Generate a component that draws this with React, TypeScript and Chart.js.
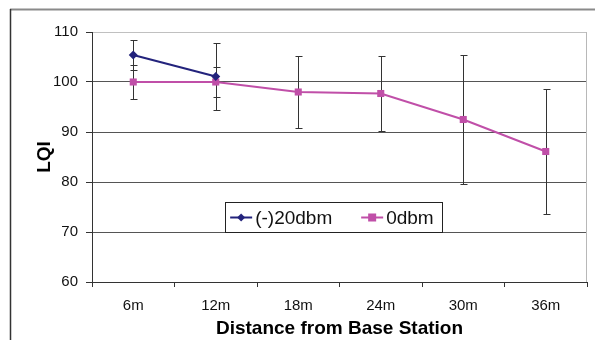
import React, { useEffect, useRef } from "react";
import { Chart, registerables } from "chart.js";

Chart.register(...registerables);

const categories = ["6m", "12m", "18m", "24m", "30m", "36m"];
const seriesNames = ["(-)20dbm", "0dbm"];
const valuesM20 = [105.4, 101.1, null, null, null, null];
const errorsM20 = [2.9, 6.7, null, null, null, null];
const values0 = [100, 100, 98, 97.7, 92.5, 86.1];
const errors0 = [3.35, 3, 7.3, 7.5, 12.9, 12.5];
const yTicks = [60, 70, 80, 90, 100, 110];

const NAVY = "#23237c";
const MAGENTA = "#c04fa8";
const FONT = "'Liberation Sans', Arial, sans-serif";

const frameAndErrors = {
  id: "frameAndErrors",
  beforeDraw(chart: any) {
    const ctx = chart.ctx;
    ctx.save();
    ctx.fillStyle = "#fff";
    ctx.fillRect(0, 0, chart.width, chart.height);
    ctx.strokeStyle = "#8a8a8a";
    ctx.lineWidth = 2;
    ctx.beginPath();
    ctx.moveTo(10, 9.5);
    ctx.lineTo(chart.width, 9.5);
    ctx.stroke();
    ctx.strokeStyle = "#333";
    ctx.lineWidth = 1.5;
    ctx.beginPath();
    ctx.moveTo(10.5, 9);
    ctx.lineTo(10.5, chart.height);
    ctx.stroke();
    ctx.restore();
  },
  beforeDatasetsDraw(chart: any) {
    const ctx = chart.ctx;
    const ca = chart.chartArea;
    ctx.save();
    ctx.strokeStyle = "#b8b8b8";
    ctx.lineWidth = 1;
    ctx.beginPath();
    ctx.moveTo(ca.right - 0.5, ca.top);
    ctx.lineTo(ca.right - 0.5, ca.bottom);
    ctx.stroke();
    const xs = chart.scales.x;
    const ys = chart.scales.y;
    ctx.strokeStyle = "#333";
    ctx.lineWidth = 1;
    chart.data.datasets.forEach((ds: any) => {
      const errs = ds.errors as (number | null)[];
      ds.data.forEach((v: number | null, i: number) => {
        const e = errs[i];
        if (v == null || e == null) return;
        const x = Math.round(xs.getPixelForValue(i)) + 0.5;
        const y1 = Math.round(ys.getPixelForValue(v + e)) + 0.5;
        const y2 = Math.round(ys.getPixelForValue(v - e)) + 0.5;
        ctx.beginPath();
        ctx.moveTo(x, y1);
        ctx.lineTo(x, y2);
        ctx.moveTo(x - 3, y1);
        ctx.lineTo(x + 4, y1);
        ctx.moveTo(x - 3, y2);
        ctx.lineTo(x + 4, y2);
        ctx.stroke();
      });
    });
    ctx.restore();
  },
  afterDraw(chart: any) {
    const ctx = chart.ctx;
    const ca = chart.chartArea;
    const w = ca.right - ca.left;
    const h = ca.bottom - ca.top;
    const bx = ca.left + w * 0.269;
    const by = ca.top + h * 0.68;
    const bw = w * 0.438;
    const bh = 30;
    ctx.save();
    ctx.fillStyle = "#fff";
    ctx.fillRect(bx, by, bw, bh);
    ctx.strokeStyle = "#222";
    ctx.lineWidth = 1;
    ctx.strokeRect(Math.round(bx) + 0.5, Math.round(by) + 0.5, Math.round(bw), bh);
    const cy = by + bh / 2 + 0.5;
    ctx.font = "19px " + FONT;
    ctx.textBaseline = "middle";
    const items = chart.data.datasets;
    const starts = [bx + 5, bx + 136];
    items.forEach((ds: any, i: number) => {
      const sx = starts[i];
      ctx.strokeStyle = ds.borderColor;
      ctx.lineWidth = 2;
      ctx.beginPath();
      ctx.moveTo(sx, cy);
      ctx.lineTo(sx + 22, cy);
      ctx.stroke();
      ctx.fillStyle = ds.borderColor;
      const mx = sx + 11;
      if (ds.pointStyle === "rectRot") {
        ctx.beginPath();
        ctx.moveTo(mx, cy - 4);
        ctx.lineTo(mx + 4, cy);
        ctx.lineTo(mx, cy + 4);
        ctx.lineTo(mx - 4, cy);
        ctx.closePath();
        ctx.fill();
      } else {
        ctx.fillRect(mx - 4, cy - 4, 8, 8);
      }
      ctx.fillStyle = "#111";
      ctx.fillText(ds.label, sx + 25, cy + 1);
    });
    ctx.restore();
  },
};

export default function App() {
  const ref = useRef<HTMLCanvasElement>(null);
  useEffect(() => {
    if (!ref.current) return;
    const chart = new Chart(ref.current, {
      type: "line",
      data: {
        labels: categories,
        datasets: [
          {
            label: seriesNames[0],
            data: valuesM20,
            errors: errorsM20,
            borderColor: NAVY,
            backgroundColor: NAVY,
            borderWidth: 2,
            pointStyle: "rectRot",
            pointRadius: 4.5,
            pointBorderWidth: 0,
            spanGaps: false,
          } as any,
          {
            label: seriesNames[1],
            data: values0,
            errors: errors0,
            borderColor: MAGENTA,
            backgroundColor: MAGENTA,
            borderWidth: 2,
            pointStyle: "rect",
            pointRadius: 5,
            pointBorderWidth: 0,
          } as any,
        ],
      },
      options: {
        responsive: false,
        animation: false,
        layout: { padding: { top: 32, right: 8, left: 33, bottom: 0 } },
        plugins: { legend: { display: false }, tooltip: { enabled: false } },
        scales: {
          x: {
            offset: true,
            grid: {
              offset: true,
              drawOnChartArea: false,
              drawTicks: true,
              tickLength: 5,
              color: "#333",
            },
            border: { color: "#333", width: 1 },
            ticks: {
              font: { family: FONT, size: 15 },
              color: "#111",
              padding: 10,
              maxRotation: 0,
            },
            title: {
              display: true,
              text: "Distance from Base Station",
              font: { family: FONT, size: 19, weight: "bold" },
              color: "#000",
              padding: { top: 0, bottom: 0 },
            },
            afterFit(scale: any) {
              scale.height = 58;
            },
          },
          y: {
            min: 60,
            max: 110,
            afterBuildTicks(scale: any) {
              scale.ticks = yTicks.map((v) => ({ value: v }));
            },
            grid: {
              color: (c: any) => (c.tick && c.tick.value === 110 ? "#c0c0c0" : "#555"),
              tickColor: "#333",
              tickLength: 6,
            },
            border: { color: "#333", width: 1 },
            ticks: {
              font: { family: FONT, size: 15 },
              color: "#111",
              padding: 8,
            },
            title: {
              display: true,
              text: "LQI",
              font: { family: FONT, size: 19, weight: "bold" },
              color: "#000",
              padding: { top: 0, bottom: 0 },
            },
            afterFit(scale: any) {
              scale.width = 59;
            },
          },
        },
      },
      plugins: [frameAndErrors],
    });
    return () => chart.destroy();
  }, []);
  return (
    <div style={{ position: "absolute", left: 0, top: 0, width: 595, height: 340 }}>
      <canvas ref={ref} width={595} height={340} style={{ display: "block" }} />
    </div>
  );
}
